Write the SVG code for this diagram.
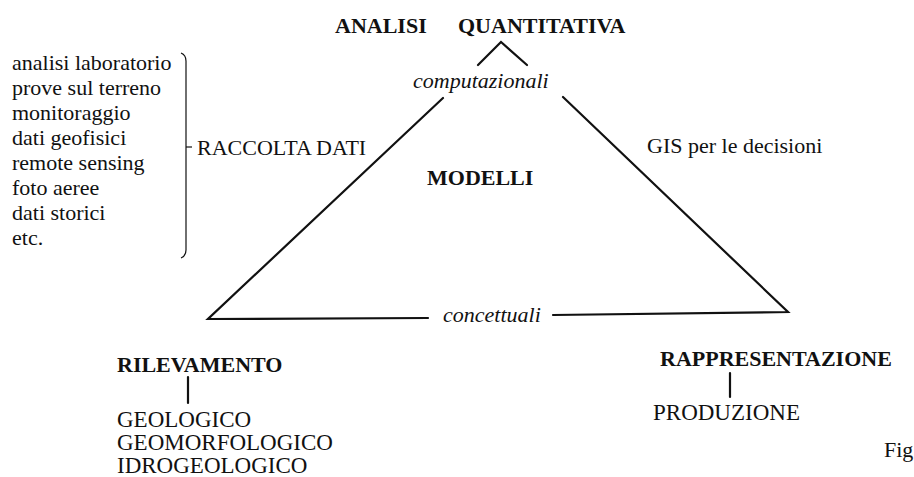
<svg xmlns="http://www.w3.org/2000/svg" width="914" height="477" viewBox="0 0 914 477">
<style>
text{font-family:"Liberation Serif","Times New Roman",serif;fill:#111;}
.b{font-weight:bold;font-size:22px;}
.r{font-size:22px;}
.c{font-size:23px;}
.i{font-style:italic;font-size:22px;}
.ln{stroke:#111;stroke-width:2.2;fill:none;stroke-linecap:round;stroke-linejoin:miter;}
.thin{stroke:#111;stroke-width:1.2;fill:none;}
</style>
<rect width="914" height="477" fill="#fff"/>
<g id="connectors">
<path class="ln" d="M478,65 L501,42 L527,65"/>
<path class="ln" d="M443,98 L208,319 L428,318"/>
<path class="ln" d="M553,315 L788,312 L563,97"/>
<path class="thin" d="M181,53 Q186,55 186,61 V250 Q186,256 181,258"/>
<path class="thin" d="M186,147 H192"/>
<path class="ln" d="M188,377 V403"/>
<path class="ln" d="M730,373 V397"/>
</g>
<g id="analisi"><text class="b" x="335" y="33">ANALISI</text><text class="b" x="458" y="33">QUANTITATIVA</text></g>
<g id="computazionali"><text class="i" x="413" y="88">computazionali</text></g>
<g id="modelli"><text class="b" x="427" y="185">MODELLI</text></g>
<g id="raccolta"><text class="r" x="197" y="155">RACCOLTA DATI</text></g>
<g id="gis"><text class="r" x="647" y="153">GIS per le decisioni</text></g>
<g id="concettuali"><text class="i" x="443" y="322">concettuali</text></g>
<g id="lista">
<text class="r" x="12" y="70">analisi laboratorio</text>
<text class="r" x="12" y="95">prove sul terreno</text>
<text class="r" x="12" y="120">monitoraggio</text>
<text class="r" x="12" y="145">dati geofisici</text>
<text class="r" x="12" y="170">remote sensing</text>
<text class="r" x="12" y="195">foto aeree</text>
<text class="r" x="12" y="220">dati storici</text>
<text class="r" x="12" y="245">etc.</text>
</g>
<g id="rilevamento">
<text class="b" x="117" y="372">RILEVAMENTO</text>
<text class="c" x="117" y="427">GEOLOGICO</text>
<text class="c" x="117" y="450">GEOMORFOLOGICO</text>
<text class="c" x="117" y="473">IDROGEOLOGICO</text>
</g>
<g id="rappresentazione">
<text class="b" x="660" y="366">RAPPRESENTAZIONE</text>
<text class="c" x="653" y="420">PRODUZIONE</text>
</g>
<g id="fig"><text class="r" x="884" y="457">Fig</text></g>
</svg>
